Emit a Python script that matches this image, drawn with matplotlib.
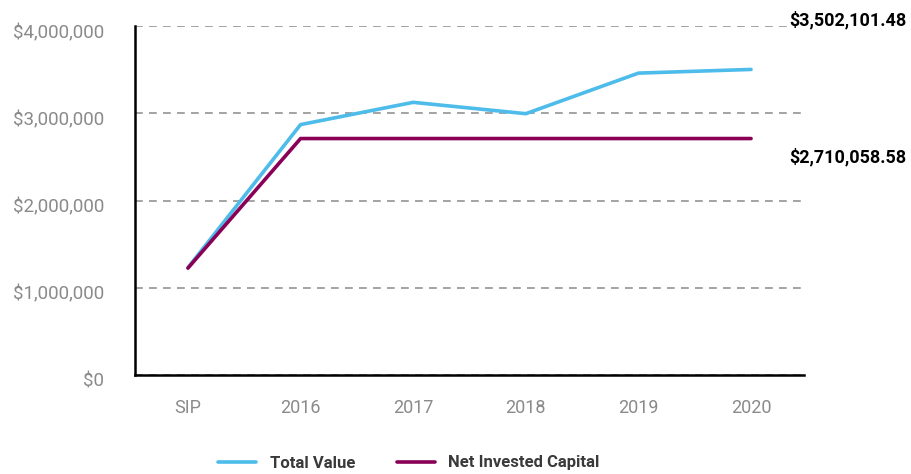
import matplotlib
matplotlib.use("Agg")
import matplotlib.pyplot as plt
import matplotlib.transforms as mtransforms
from matplotlib.ticker import FuncFormatter

categories = ["SIP", "2016", "2017", "2018", "2019", "2020"]
total_value = [1230000, 2870000, 3125000, 2995000, 3460000, 3502101.48]
net_invested = [1225000, 2710058.58, 2710058.58, 2710058.58, 2710058.58, 2710058.58]
series_names = ["Total Value", "Net Invested Capital"]
end_labels = ["$3,502,101.48", "$2,710,058.58"]

blue = "#4DBCEA"
purple = "#8A0056"

plt.rcParams['font.family'] = ['Roboto', 'DejaVu Sans']

fig = plt.figure(figsize=(9.11, 4.74), dpi=100)
ax = fig.add_axes([135/911, 1-375/474, (804-135)/911, (375-26)/474])

x = list(range(len(categories)))
l1, = ax.plot(x, total_value, color=blue, lw=2.6, solid_capstyle='round', label=series_names[0], zorder=3)
l2, = ax.plot(x, net_invested, color=purple, lw=2.6, solid_capstyle='round', label=series_names[1], zorder=3)

ax.set_xlim(-0.47, 5.47)
ax.set_ylim(0, 4000000)
ax.set_yticks([0, 1000000, 2000000, 3000000, 4000000])
ax.yaxis.set_major_formatter(FuncFormatter(lambda v, p: "${:,.0f}".format(v)))
ax.set_xticks(x)
ax.set_xticklabels(categories)
ax.tick_params(axis='y', length=0, pad=22, labelsize=13.5, labelcolor="#8a8a8a")
ax.tick_params(axis='x', length=0, pad=17, labelsize=13, labelcolor="#8a8a8a")

offset = mtransforms.ScaledTranslation(0, -5/100, fig.dpi_scale_trans)
for lab in ax.get_yticklabels():
    lab.set_transform(lab.get_transform() + offset)

ax.yaxis.grid(True, linestyle=(0, (4, 3.2)), color="#a3a3a3", lw=1.4)
ax.set_axisbelow(True)
for s in ["top", "right"]:
    ax.spines[s].set_visible(False)
for s in ["left", "bottom"]:
    ax.spines[s].set_linewidth(1.8)
    ax.spines[s].set_color("black")

fig.text(906/911, 1-20/474, end_labels[0], ha='right', va='center', fontsize=13,
         fontweight='bold', color='black', bbox=dict(facecolor='white', edgecolor='none', pad=1))
fig.text(906/911, 1-157/474, end_labels[1], ha='right', va='center', fontsize=13,
         fontweight='bold', color='black')

leg = fig.legend(handles=[l1, l2], loc='center', bbox_to_anchor=(409/911, 1-463/474), ncol=2,
                 frameon=False, handlelength=2.3, columnspacing=2.5, handletextpad=0.8,
                 prop={'weight': 'bold', 'size': 12})
for t in leg.get_texts():
    t.set_color("#3a3a3a")

fig.savefig("out.png", dpi=100)
